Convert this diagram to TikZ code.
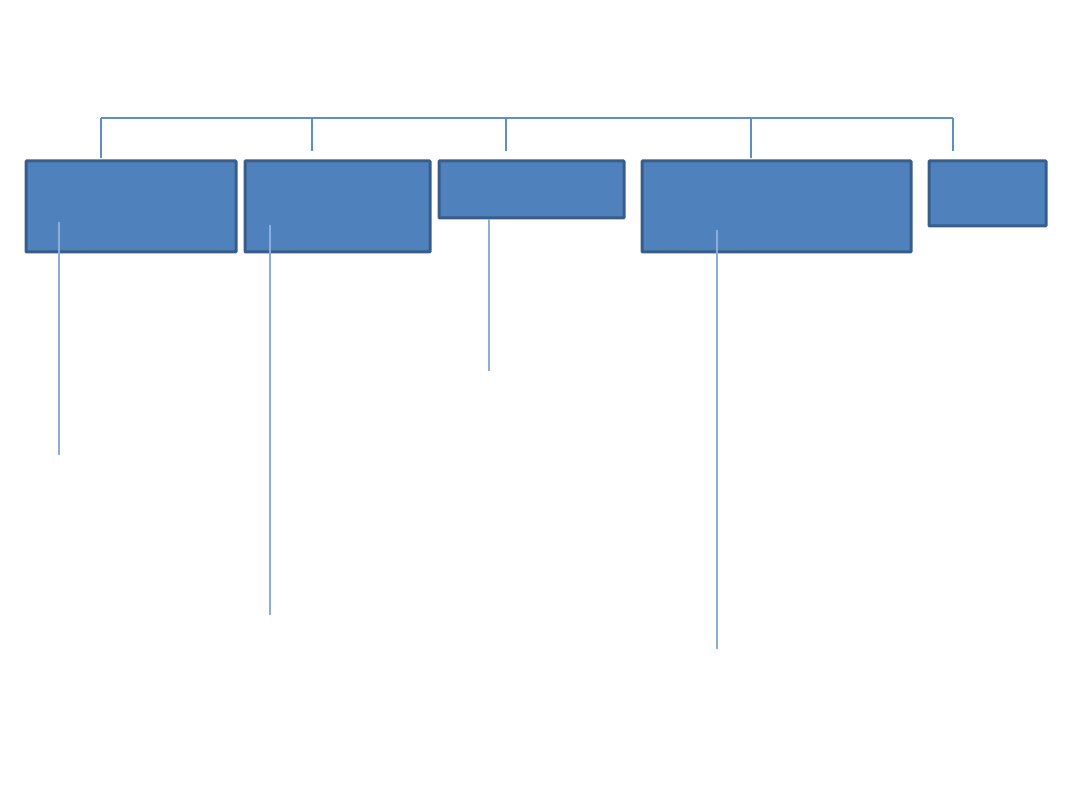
\documentclass[tikz,border=0pt]{standalone}
\begin{document}
\begin{tikzpicture}[x=1pt,y=-1pt,
  box/.style={draw=boxborder,fill=boxfill,line width=3pt,rounded corners=0.8pt,inner sep=0pt,outer sep=0pt},
  barline/.style={draw=barblue,line width=1.3pt},
  dropline/.style={draw=droplight,line width=1.3pt}]
\definecolor{boxfill}{HTML}{4F81BD}
\definecolor{boxborder}{HTML}{385D8A}
\definecolor{barblue}{HTML}{5F8DC8}
\definecolor{droplight}{HTML}{8AAEDC}
\useasboundingbox (0,0) rectangle (1080,810);
% boxes
\node[box,minimum width=210pt,minimum height=91pt] (b1) at (131,206.5) {};
\node[box,minimum width=185pt,minimum height=91pt] (b2) at (337.5,206.5) {};
\node[box,minimum width=185pt,minimum height=57pt] (b3) at (531.5,189.5) {};
\node[box,minimum width=269pt,minimum height=91pt] (b4) at (776.5,206.5) {};
\node[box,minimum width=117pt,minimum height=65pt] (b5) at (987.5,193.5) {};
% top bar
\coordinate (t1) at (101,118);
\coordinate (t2) at (312,118);
\coordinate (t3) at (506,118);
\coordinate (t4) at (751,118);
\coordinate (t5) at (953,118);
\coordinate (e1) at (101,158);
\coordinate (e2) at (312,151);
\coordinate (e3) at (506,151);
\coordinate (e4) at (751,158);
\coordinate (e5) at (953,151);
\draw[barline] (t1) -- (t5);
\foreach \i in {1,...,5} \draw[barline] (t\i) -- (e\i);
% drop lines
\coordinate (d1a) at (59,222); \coordinate (d1b) at (59,455);
\coordinate (d2a) at (270,225); \coordinate (d2b) at (270,615);
\coordinate (d3a) at (489,219); \coordinate (d3b) at (489,371);
\coordinate (d4a) at (717,230); \coordinate (d4b) at (717,649);
\draw[dropline] (d1a) -- (d1b);
\draw[dropline] (d2a) -- (d2b);
\draw[dropline] (d3a) -- (d3b);
\draw[dropline] (d4a) -- (d4b);
\end{tikzpicture}
\end{document}
